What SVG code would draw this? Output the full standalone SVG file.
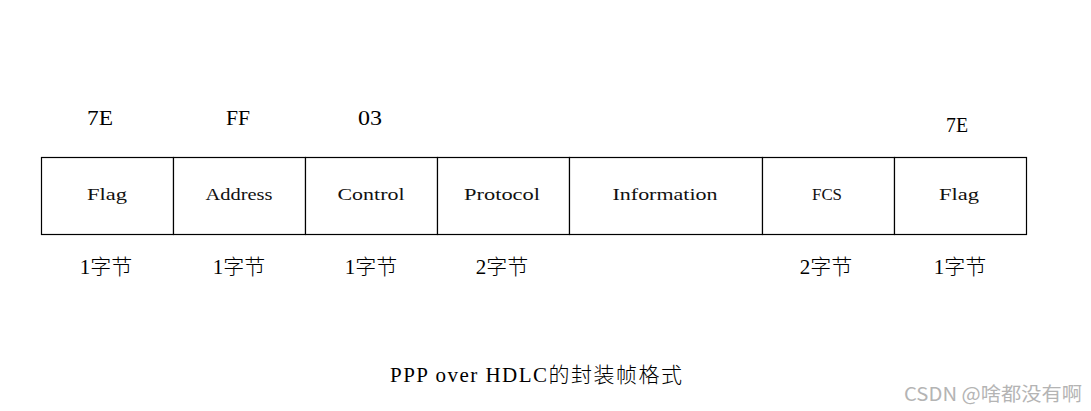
<svg xmlns="http://www.w3.org/2000/svg" width="1091" height="411" viewBox="0 0 1091 411">
<style>
.box{fill:#fff;stroke:#000;stroke-width:1.2}
.lbl{font-family:"Liberation Serif","Noto Sans CJK SC",serif;font-size:17px;fill:#111;text-anchor:middle}
.big{font-family:"Liberation Serif","Noto Sans CJK SC",serif;font-size:21px;fill:#000;text-anchor:middle}
.cjk{font-family:"Liberation Serif","Noto Sans CJK SC",serif;font-size:21px;fill:#000;text-anchor:middle;font-weight:300}
.wm{font-family:"Noto Sans CJK SC","Noto Sans",sans-serif;font-size:19px;fill:#b4b4b4;text-anchor:end}
</style>
<rect width="1091" height="411" fill="#fff"/>
<g id="top-values">
<text class="big" x="100" y="125" textLength="26" lengthAdjust="spacingAndGlyphs">7E</text>
<text class="big" x="238" y="125" textLength="24" lengthAdjust="spacingAndGlyphs">FF</text>
<text class="big" x="370" y="125" textLength="24" lengthAdjust="spacingAndGlyphs">03</text>
<text class="big" x="957" y="132" textLength="22" lengthAdjust="spacingAndGlyphs">7E</text>
</g>
<g id="field-flag1"><rect class="box" x="41.5" y="157.5" width="132" height="77"/><text class="lbl" x="107" y="200" textLength="40" lengthAdjust="spacingAndGlyphs">Flag</text></g>
<g id="field-address"><rect class="box" x="173.5" y="157.5" width="132" height="77"/><text class="lbl" x="239" y="200" textLength="67" lengthAdjust="spacingAndGlyphs">Address</text></g>
<g id="field-control"><rect class="box" x="305.5" y="157.5" width="132" height="77"/><text class="lbl" x="371" y="200" textLength="67" lengthAdjust="spacingAndGlyphs">Control</text></g>
<g id="field-protocol"><rect class="box" x="437.5" y="157.5" width="132" height="77"/><text class="lbl" x="502" y="200" textLength="76" lengthAdjust="spacingAndGlyphs">Protocol</text></g>
<g id="field-information"><rect class="box" x="569.5" y="157.5" width="193" height="77"/><text class="lbl" x="665" y="200" textLength="105" lengthAdjust="spacingAndGlyphs">Information</text></g>
<g id="field-fcs"><rect class="box" x="762.5" y="157.5" width="132" height="77"/><text class="lbl" x="827" y="200" textLength="30" lengthAdjust="spacingAndGlyphs">FCS</text></g>
<g id="field-flag2"><rect class="box" x="894.5" y="157.5" width="132" height="77"/><text class="lbl" x="959" y="200" textLength="40" lengthAdjust="spacingAndGlyphs">Flag</text></g>
<g id="sizes">
<text class="cjk" x="106" y="274">1字节</text>
<text class="cjk" x="239" y="274">1字节</text>
<text class="cjk" x="371" y="274">1字节</text>
<text class="cjk" x="502" y="274">2字节</text>
<text class="cjk" x="826" y="274">2字节</text>
<text class="cjk" x="960" y="274">1字节</text>
</g>
<g id="caption">
<text class="cjk" x="536" y="382" textLength="292">PPP over HDLC的封装帧格式</text>
</g>
<g id="watermark">
<text class="wm" x="1082" y="401" textLength="178" lengthAdjust="spacingAndGlyphs">CSDN @啥都没有啊</text>
</g>
</svg>
